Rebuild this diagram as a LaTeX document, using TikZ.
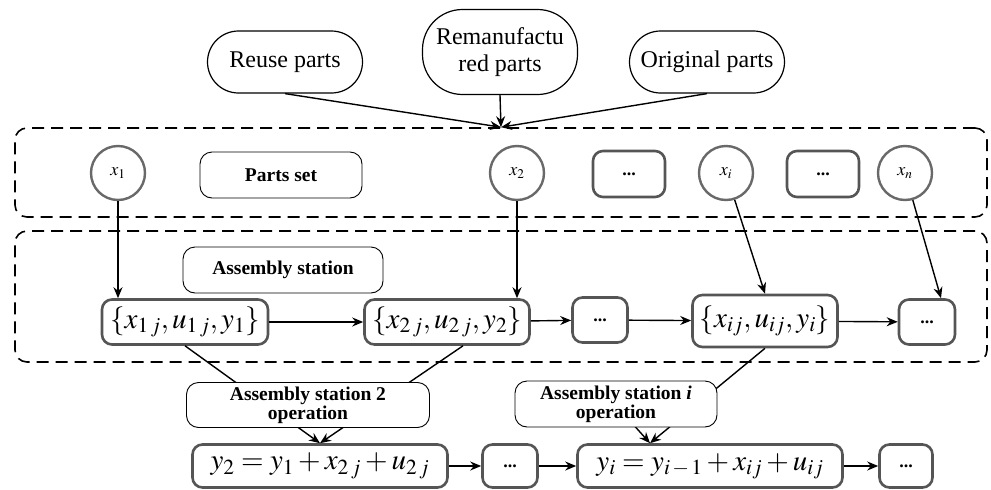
\documentclass[tikz,border=0pt]{standalone}
\usepackage{mathptmx}
\usepackage{fontspec}
\setmainfont{Liberation Serif}
\usetikzlibrary{arrows.meta}
\definecolor{boxgray}{RGB}{85,85,85}
\definecolor{circgray}{RGB}{105,105,105}

\begin{document}
\begin{tikzpicture}[x=1pt,y=-1pt,
  pill/.style={draw, line width=1.2pt, rounded corners=31pt, inner sep=0pt,
    minimum width=155pt, align=center, font=\fontsize{24}{27}\selectfont},
  frame/.style={draw, line width=1.6pt, dash pattern=on 12pt off 7pt,
    rounded corners=12pt, inner sep=0pt},
  circ/.style={circle, draw=circgray, line width=2.4pt, minimum size=54pt,
    inner sep=0pt, font=\fontsize{18}{20}\selectfont},
  gbox/.style={draw=boxgray, fill=white, line width=2.6pt, rounded corners=10pt,
    inner sep=0pt, font=\fontsize{29}{31}\selectfont},
  dotbox/.style={gbox, font=\fontsize{18}{20}\selectfont\bfseries},
  tbox/.style={draw, fill=white, line width=0.9pt, rounded corners=12pt,
    inner sep=0pt, align=center, font=\fontsize{19.5}{22}\selectfont\bfseries},
  arr/.style={-{Stealth[length=11pt,width=9pt]}, line width=1.4pt}]
\useasboundingbox (0,0) rectangle (991,490);

% sources of parts
\node[pill, minimum height=62pt] (reuse) at (285,62) {Reuse parts};
\node[pill, rounded corners=40pt, minimum height=85pt] (reman) at (500,52) {Remanufactu\\red parts};
\node[pill, minimum height=62pt] (orig) at (707,62) {Original parts};

% dashed frames
\node[frame, minimum width=972pt, minimum height=89pt] (setframe) at (501,172.5) {};
\node[frame, minimum width=972pt, minimum height=131pt] (stframe) at (501,296.5) {};

% parts set
\node[circ] (x1) at (118,173) {$x_1$};
\node[tbox, minimum width=162pt, minimum height=46pt] (partset) at (281,175) {Parts set};
\node[circ] (x2) at (517,173) {$x_2$};
\node[dotbox, minimum width=72pt, minimum height=46pt] (dotsa) at (629,174) {...};
\node[circ] (xi) at (726,173) {$x_i$};
\node[dotbox, minimum width=72pt, minimum height=46pt] (dotsb) at (823,174) {...};
\node[circ] (xn) at (905,173) {$x_n$};

% assembly stations
\node[tbox, minimum width=200pt, minimum height=46pt] (asm) at (283,270) {Assembly station};
\node[gbox, minimum width=166pt, minimum height=45pt] (s1) at (185,322) {$\{x_{1\,j}, u_{1\,j}, y_1\}$};
\node[gbox, minimum width=165pt, minimum height=45pt] (s2) at (447,322) {$\{x_{2\,j}, u_{2\,j}, y_2\}$};
\node[dotbox, minimum width=55pt, minimum height=45pt] (dotsc) at (600,320) {...};
\node[gbox, minimum width=145pt, minimum height=52pt] (si) at (765,321) {$\{x_{ij}, u_{ij}, y_i\}$};
\node[dotbox, minimum width=56pt, minimum height=45pt] (dotsd) at (927,322) {...};

% states
\node[gbox, minimum width=255pt, minimum height=43pt] (e2) at (320,466) {$y_2 = y_1 + x_{2\,j} + u_{2\,j}$};
\node[dotbox, minimum width=55pt, minimum height=43pt] (dotse) at (510,466) {...};
\node[gbox, minimum width=265pt, minimum height=43pt] (ei) at (710,466) {$y_i = y_{i\,-\,1} + x_{ij} + u_{ij}$};
\node[dotbox, minimum width=53pt, minimum height=43pt] (dotsf) at (906,466) {...};

\coordinate (ti) at ([xshift=-60pt]ei.north);
\coordinate (hid) at (622,412);

% connectors
\draw[arr] (reuse.south) -- (setframe.north);
\draw[arr] (reman.south) -- (setframe.north);
\draw[arr] (orig.south) -- (setframe.north);
\draw[arr] (x1) -- (x1 |- s1.north);
\draw[arr] (x2) -- (x2 |- s2.north);
\draw[arr] (xi) -- (si.north);
\draw[arr] (xn) -- ([xshift=14pt]dotsd.north);
\draw[arr] (s1) -- (s2);
\draw[arr] (s2) -- (dotsc);
\draw[arr] (dotsc) -- (si);
\draw[arr] (si) -- (dotsd);
\draw[arr] (e2) -- (dotse);
\draw[arr] (dotse) -- (ei);
\draw[arr] (ei) -- (dotsf);
\draw[arr] (s1.south) -- (e2.north);
\draw[arr] ([xshift=16pt]s2.south) -- (e2.north);
\draw[arr] (si.south) -- (ti);
\draw[arr] (hid) -- (ti);

% operations
\node[tbox, minimum width=243pt, minimum height=45pt] (op2) at (308,405) {Assembly station 2\\[-3pt]operation};
\node[tbox, minimum width=202pt, minimum height=46pt] (opi) at (616,404) {Assembly station \textit{i}\\[-3pt]operation};
\end{tikzpicture}
\end{document}
